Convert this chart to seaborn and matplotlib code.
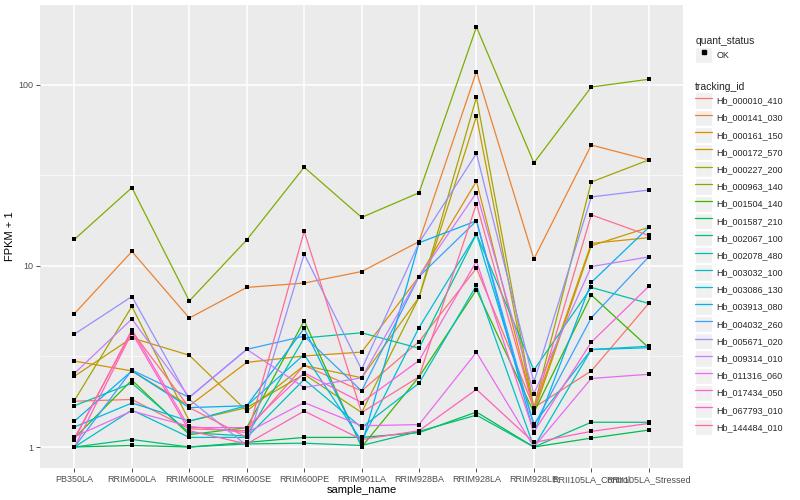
import numpy as np
import pandas as pd
import matplotlib
matplotlib.use("Agg")
import matplotlib.pyplot as plt
from matplotlib.lines import Line2D
from matplotlib.patches import Rectangle
from matplotlib.legend_handler import HandlerLine2D
from matplotlib.ticker import FixedLocator, NullFormatter
import seaborn as sns

samples = ["PB350LA", "RRIM600LA", "RRIM600LE", "RRIM600SE", "RRIM600PE", "RRIM901LA",
           "RRIM928BA", "RRIM928LA", "RRIM928LE", "RRII105LA_Control", "RRII105LA_Stressed"]

tracking_ids = ["Hb_000010_410", "Hb_000141_030", "Hb_000161_150", "Hb_000172_570", "Hb_000227_200",
                "Hb_000963_140", "Hb_001504_140", "Hb_001587_210", "Hb_002067_100", "Hb_002078_480",
                "Hb_003032_100", "Hb_003086_130", "Hb_003913_080", "Hb_004032_260", "Hb_005671_020",
                "Hb_009314_010", "Hb_011316_060", "Hb_017434_050", "Hb_067793_010", "Hb_144484_010"]

# FPKM + 1 per gene, one value per sample
hb_000010_410 = [1.79, 1.83, 1.26, 1.23, 2.82, 2.04, 3.82, 9.7, 1.65, 2.63, 6.2]
hb_000141_030 = [5.45, 12.0, 5.15, 7.6, 8.03, 9.3, 13.6, 118, 10.9, 46.4, 38.4]
hb_000161_150 = [2.98, 2.63, 1.69, 2.93, 3.18, 3.34, 8.72, 29.3, 1.62, 13.3, 14.3]
hb_000172_570 = [2.46, 4.0, 3.21, 1.58, 2.82, 2.41, 6.7, 67, 1.55, 12.9, 16.3]
hb_000227_200 = [1.81, 5.97, 1.39, 1.65, 2.52, 1.55, 6.7, 85, 1.65, 29.0, 38.4]
hb_000963_140 = [14.0, 27.0, 6.4, 13.9, 35.0, 18.5, 25.3, 208, 37.0, 97.0, 107]
hb_001504_140 = [1.12, 2.34, 1.17, 1.28, 4.98, 1.0, 2.44, 7.37, 1.55, 6.9, 3.53]
hb_001587_210 = [1.0, 1.02, 1.0, 1.06, 1.13, 1.13, 1.20, 1.56, 1.0, 1.12, 1.24]
hb_002067_100 = [1.0, 1.10, 1.0, 1.04, 1.05, 1.02, 1.22, 1.50, 1.0, 1.37, 1.37]
hb_002078_480 = [1.69, 2.25, 1.20, 1.15, 4.0, 4.27, 3.51, 15.0, 2.66, 7.6, 6.2]
hb_003032_100 = [1.0, 1.6, 1.13, 1.13, 2.36, 1.28, 2.25, 7.8, 1.0, 3.45, 3.6]
hb_003086_130 = [1.29, 1.75, 1.39, 1.69, 3.24, 1.08, 4.56, 15.0, 1.34, 3.45, 3.53]
hb_003913_080 = [1.39, 2.63, 1.65, 1.69, 4.51, 1.02, 13.4, 17.7, 1.19, 8.1, 16.3]
hb_004032_260 = [1.0, 2.66, 1.88, 3.46, 4.09, 2.04, 8.72, 17.7, 1.31, 5.17, 11.2]
hb_005671_020 = [4.2, 6.77, 1.83, 1.02, 11.6, 2.68, 13.4, 41.7, 2.28, 24.0, 26.2]
hb_009314_010 = [2.55, 5.09, 1.88, 3.46, 2.13, 2.41, 8.72, 25.3, 1.97, 9.9, 11.2]
hb_011316_060 = [1.14, 1.58, 1.30, 1.20, 1.76, 1.31, 1.33, 3.33, 1.0, 2.39, 2.52]
hb_017434_050 = [1.10, 4.44, 1.28, 1.28, 2.57, 1.76, 3.0, 10.6, 1.21, 3.79, 7.7]
hb_067793_010 = [1.0, 4.27, 1.23, 1.04, 1.58, 1.10, 1.23, 2.08, 1.06, 1.22, 1.35]
hb_144484_010 = [1.12, 4.35, 1.65, 1.13, 15.5, 1.55, 2.44, 22.0, 1.62, 19.1, 14.7]

gene_values = [hb_000010_410, hb_000141_030, hb_000161_150, hb_000172_570, hb_000227_200,
               hb_000963_140, hb_001504_140, hb_001587_210, hb_002067_100, hb_002078_480,
               hb_003032_100, hb_003086_130, hb_003913_080, hb_004032_260, hb_005671_020,
               hb_009314_010, hb_011316_060, hb_017434_050, hb_067793_010, hb_144484_010]

palette = ["#F8766D", "#EA8331", "#D89000", "#C09B00", "#A3A500", "#7CAE00", "#39B600", "#00BB4E",
           "#00BF7D", "#00C1A3", "#00BFC4", "#00BAE0", "#00B0F6", "#35A2FF", "#9590FF", "#C77CFF",
           "#E76BF3", "#FA62DB", "#FF62BC", "#FF6C91"]

rows = []
for gid, vals in zip(tracking_ids, gene_values):
    for s, v in zip(samples, vals):
        rows.append({"tracking_id": gid, "sample_name": s, "fpkm1": v, "quant_status": "OK"})
df = pd.DataFrame(rows)

sns.set_theme(style="darkgrid")
plt.rcParams["font.family"] = ["Liberation Sans", "DejaVu Sans"]

fig = plt.figure(figsize=(8, 5), dpi=100)
ax = fig.add_axes([0.05, 0.064, 0.804, 0.926])
ax.set_facecolor("#EBEBEB")

sns.lineplot(data=df, x="sample_name", y="fpkm1", hue="tracking_id", hue_order=tracking_ids,
             palette=palette, sort=False, estimator=None, linewidth=0.9, legend=False, ax=ax,
             zorder=3)
sns.scatterplot(data=df, x="sample_name", y="fpkm1", color="black", s=9, marker="s",
                linewidth=0, legend=False, ax=ax, zorder=4)

ax.set_yscale("log")
ax.set_ylim(0.766, 275)
ax.set_xlim(-0.6, len(samples) - 1 + 0.6)
ax.yaxis.set_major_locator(FixedLocator([1, 10, 100]))
ax.set_yticklabels(["1", "10", "100"])
ax.yaxis.set_minor_locator(FixedLocator([10 ** 0.5, 10 ** 1.5, 10 ** 2.5]))
ax.yaxis.set_minor_formatter(NullFormatter())

ax.grid(which="major", color="white", linewidth=1.1)
ax.grid(which="minor", axis="y", color="white", linewidth=0.5)
ax.set_axisbelow(True)
for sp in ax.spines.values():
    sp.set_visible(False)

ax.tick_params(axis="both", which="major", length=3, width=0.6, color="#333333",
               labelsize=6.5, labelcolor="#4D4D4D", pad=2, left=True, bottom=True)
ax.tick_params(axis="y", which="minor", length=0)
ax.set_xlabel("sample_name", fontsize=8, color="black", labelpad=1)
ax.set_ylabel("FPKM + 1", fontsize=8, color="black", labelpad=2)


class KeyHandler(HandlerLine2D):
    def create_artists(self, legend, orig_handle, xdescent, ydescent, width, height, fontsize, trans):
        bg = Rectangle((-xdescent, -ydescent), width, height, facecolor="#F0F0F0",
                       edgecolor="white", linewidth=1.0, transform=trans)
        arts = super().create_artists(legend, orig_handle, xdescent, ydescent, width, height,
                                      fontsize, trans)
        return [bg] + arts


common = dict(loc="upper left", frameon=False, fontsize=6.5, title_fontsize=7.5,
              alignment="left", handlelength=1.9, handleheight=2.4, handletextpad=0.45,
              labelspacing=0.1, borderpad=0.0, borderaxespad=0.0)

q_handles = [Line2D([], [], linestyle="none", marker="s", color="black", markersize=2.6)]
leg1 = fig.legend(q_handles, ["OK"], title="quant_status", bbox_to_anchor=(0.869, 0.928),
                  handler_map={Line2D: KeyHandler(numpoints=1)}, **common)

t_handles = [Line2D([], [], color=c, linewidth=0.9) for c in palette]
leg2 = fig.legend(t_handles, tracking_ids, title="tracking_id", bbox_to_anchor=(0.869, 0.837),
                  handler_map={Line2D: KeyHandler()}, **common)

fig.savefig("out.png", dpi=100, facecolor="white")
